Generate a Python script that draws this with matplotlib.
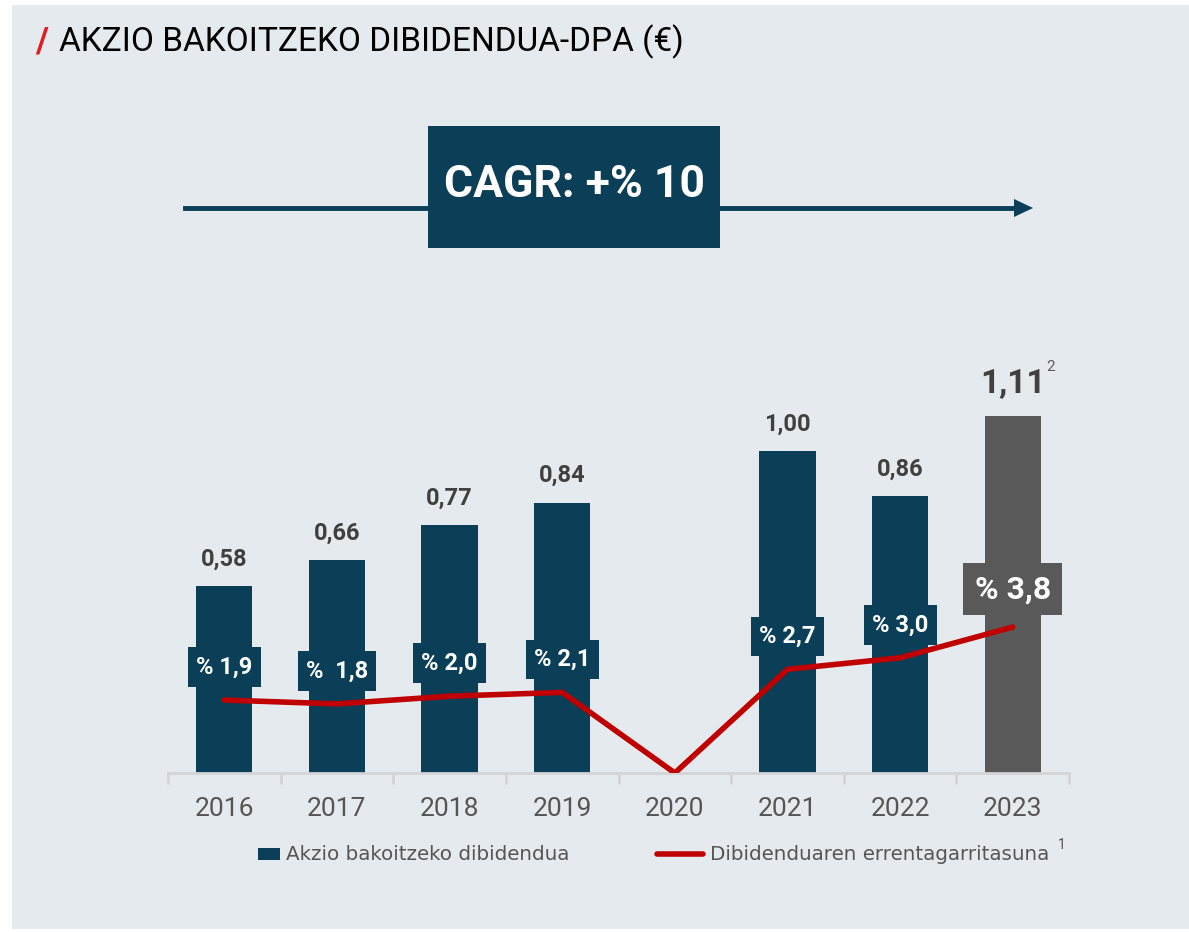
import matplotlib.pyplot as plt
from matplotlib.patches import Rectangle

# Datos
ANIOS = ["2016", "2017", "2018", "2019", "2020", "2021", "2022", "2023"]
DPA = [0.58, 0.66, 0.77, 0.84, 0.0, 1.00, 0.86, 1.11]
DPA_ETIQ = ["0,58", "0,66", "0,77", "0,84", "", "1,00", "0,86", "1,11"]
RENT = [1.9, 1.8, 2.0, 2.1, 0.0, 2.7, 3.0, 3.8]
RENT_ETIQ = ["% 1,9", "%  1,8", "% 2,0", "% 2,1", "", "% 2,7", "% 3,0", "% 3,8"]

# Colores
AZUL = "#0a3f57"
GRIS = "#595959"
ROJO = "#c00000"
FONDO = "#e5eaee"
TEXTO = "#404040"

plt.rcParams['font.family'] = ['Roboto', 'DejaVu Sans']

W, H = 1189, 932
fig = plt.figure(figsize=(W / 100, H / 100), dpi=100)
fig.patch.set_facecolor("white")
fig.patches.append(Rectangle((12 / W, 3 / H), (W - 12) / W, (H - 8) / H,
                             transform=fig.transFigure, fc=FONDO, ec="none", zorder=-5))

# Ejes en pixeles: x 168-1069, base 773, arriba 380
x0, x1, base, top = 168, 1069, 773, 380
ax = fig.add_axes([x0 / W, (H - base) / H, (x1 - x0) / W, (base - top) / H])
ax.set_facecolor("none")
alto = base - top
ax.set_ylim(0, alto / 322.0)
ax.set_xlim(-0.5, len(ANIOS) - 0.5)

x = list(range(len(ANIOS)))
colores = [AZUL] * 7 + [GRIS]
ax.bar(x, DPA, width=0.5, color=colores, zorder=2)

for i, (v, t) in enumerate(zip(DPA, DPA_ETIQ)):
    if not t:
        continue
    grande = (i == len(ANIOS) - 1)
    ax.annotate(t, (i, v), xytext=(0, 32 if grande else 27), textcoords="offset pixels",
                ha="center", va="center", fontsize=24 if grande else 17,
                fontweight="bold", color=TEXTO, zorder=5)
ax.annotate("2", (len(ANIOS) - 1, DPA[-1]), xytext=(38, 49), textcoords="offset pixels",
            ha="center", va="center", fontsize=11, color="#595959")

# Eje x
for s in ["top", "right", "left"]:
    ax.spines[s].set_visible(False)
ax.spines["bottom"].set_color("#d2d4d6")
ax.spines["bottom"].set_linewidth(2)
ax.set_yticks([])
ax.set_xticks(x)
ax.set_xticklabels(ANIOS, fontsize=19, color="#555555")
ax.tick_params(axis="x", length=0, pad=17)
ax.set_xticks([i - 0.5 for i in range(len(ANIOS) + 1)], minor=True)
ax.tick_params(axis="x", which="minor", length=8, width=2, color="#d2d4d6")

# Rentabilidad
ax2 = ax.twinx()
ax2.set_ylim(0, alto / 38.4)
ax2.axis("off")
ax2.plot(x, RENT, color=ROJO, linewidth=4, solid_capstyle="round", zorder=3)
for i, (v, t) in enumerate(zip(RENT, RENT_ETIQ)):
    if not t:
        continue
    grande = (i == len(ANIOS) - 1)
    ax2.annotate(t, (i, v), xytext=(0, 38 if grande else 33), textcoords="offset pixels",
                 ha="center", va="center", fontsize=23 if grande else 17,
                 fontweight="bold", color="white", zorder=6,
                 bbox=dict(boxstyle="square,pad=0.35", fc=GRIS if grande else AZUL, ec="none"))

# Titulo
fig.text(35 / W, 1 - 42 / H, "/", color="#e02020", fontsize=25, fontweight="bold",
         ha="left", va="center")
fig.text(59 / W, 1 - 42 / H, "AKZIO BAKOITZEKO DIBIDENDUA-DPA (€)", color="black",
         fontsize=24, ha="left", va="center")

# CAGR
fig.add_artist(plt.Line2D([185 / W, 1018 / W], [1 - 208 / H, 1 - 208 / H],
                          transform=fig.transFigure, color=AZUL, linewidth=3.5))
fig.patches.append(plt.Polygon([[1014 / W, 1 - 199 / H], [1033 / W, 1 - 208 / H], [1014 / W, 1 - 217 / H]],
                               closed=True, transform=fig.transFigure, fc=AZUL, ec="none"))
fig.patches.append(Rectangle((428 / W, 1 - 248 / H), 292 / W, 122 / H,
                             transform=fig.transFigure, fc=AZUL, ec="none", zorder=2))
fig.text(574 / W, 1 - 185 / H, "CAGR: +% 10", color="white", fontsize=32, fontweight="bold",
         ha="center", va="center", zorder=3)

# Leyenda
fig.patches.append(Rectangle((258 / W, 1 - 860 / H), 22 / W, 12 / H,
                             transform=fig.transFigure, fc=AZUL, ec="none"))
fig.text(286 / W, 1 - 854 / H, "Akzio bakoitzeko dibidendua", color="#555555", fontsize=14.3,
         family="DejaVu Sans", ha="left", va="center")
fig.add_artist(plt.Line2D([657 / W, 703 / W], [1 - 854 / H, 1 - 854 / H],
                          transform=fig.transFigure, color=ROJO, linewidth=4, solid_capstyle="round"))
fig.text(710 / W, 1 - 854 / H, "Dibidenduaren errentagarritasuna", color="#555555", fontsize=14.3,
         family="DejaVu Sans", ha="left", va="center")
fig.text(1058 / W, 1 - 845 / H, "1", color="#555555", fontsize=10, ha="left", va="center")

fig.savefig("out.png", dpi=100)
